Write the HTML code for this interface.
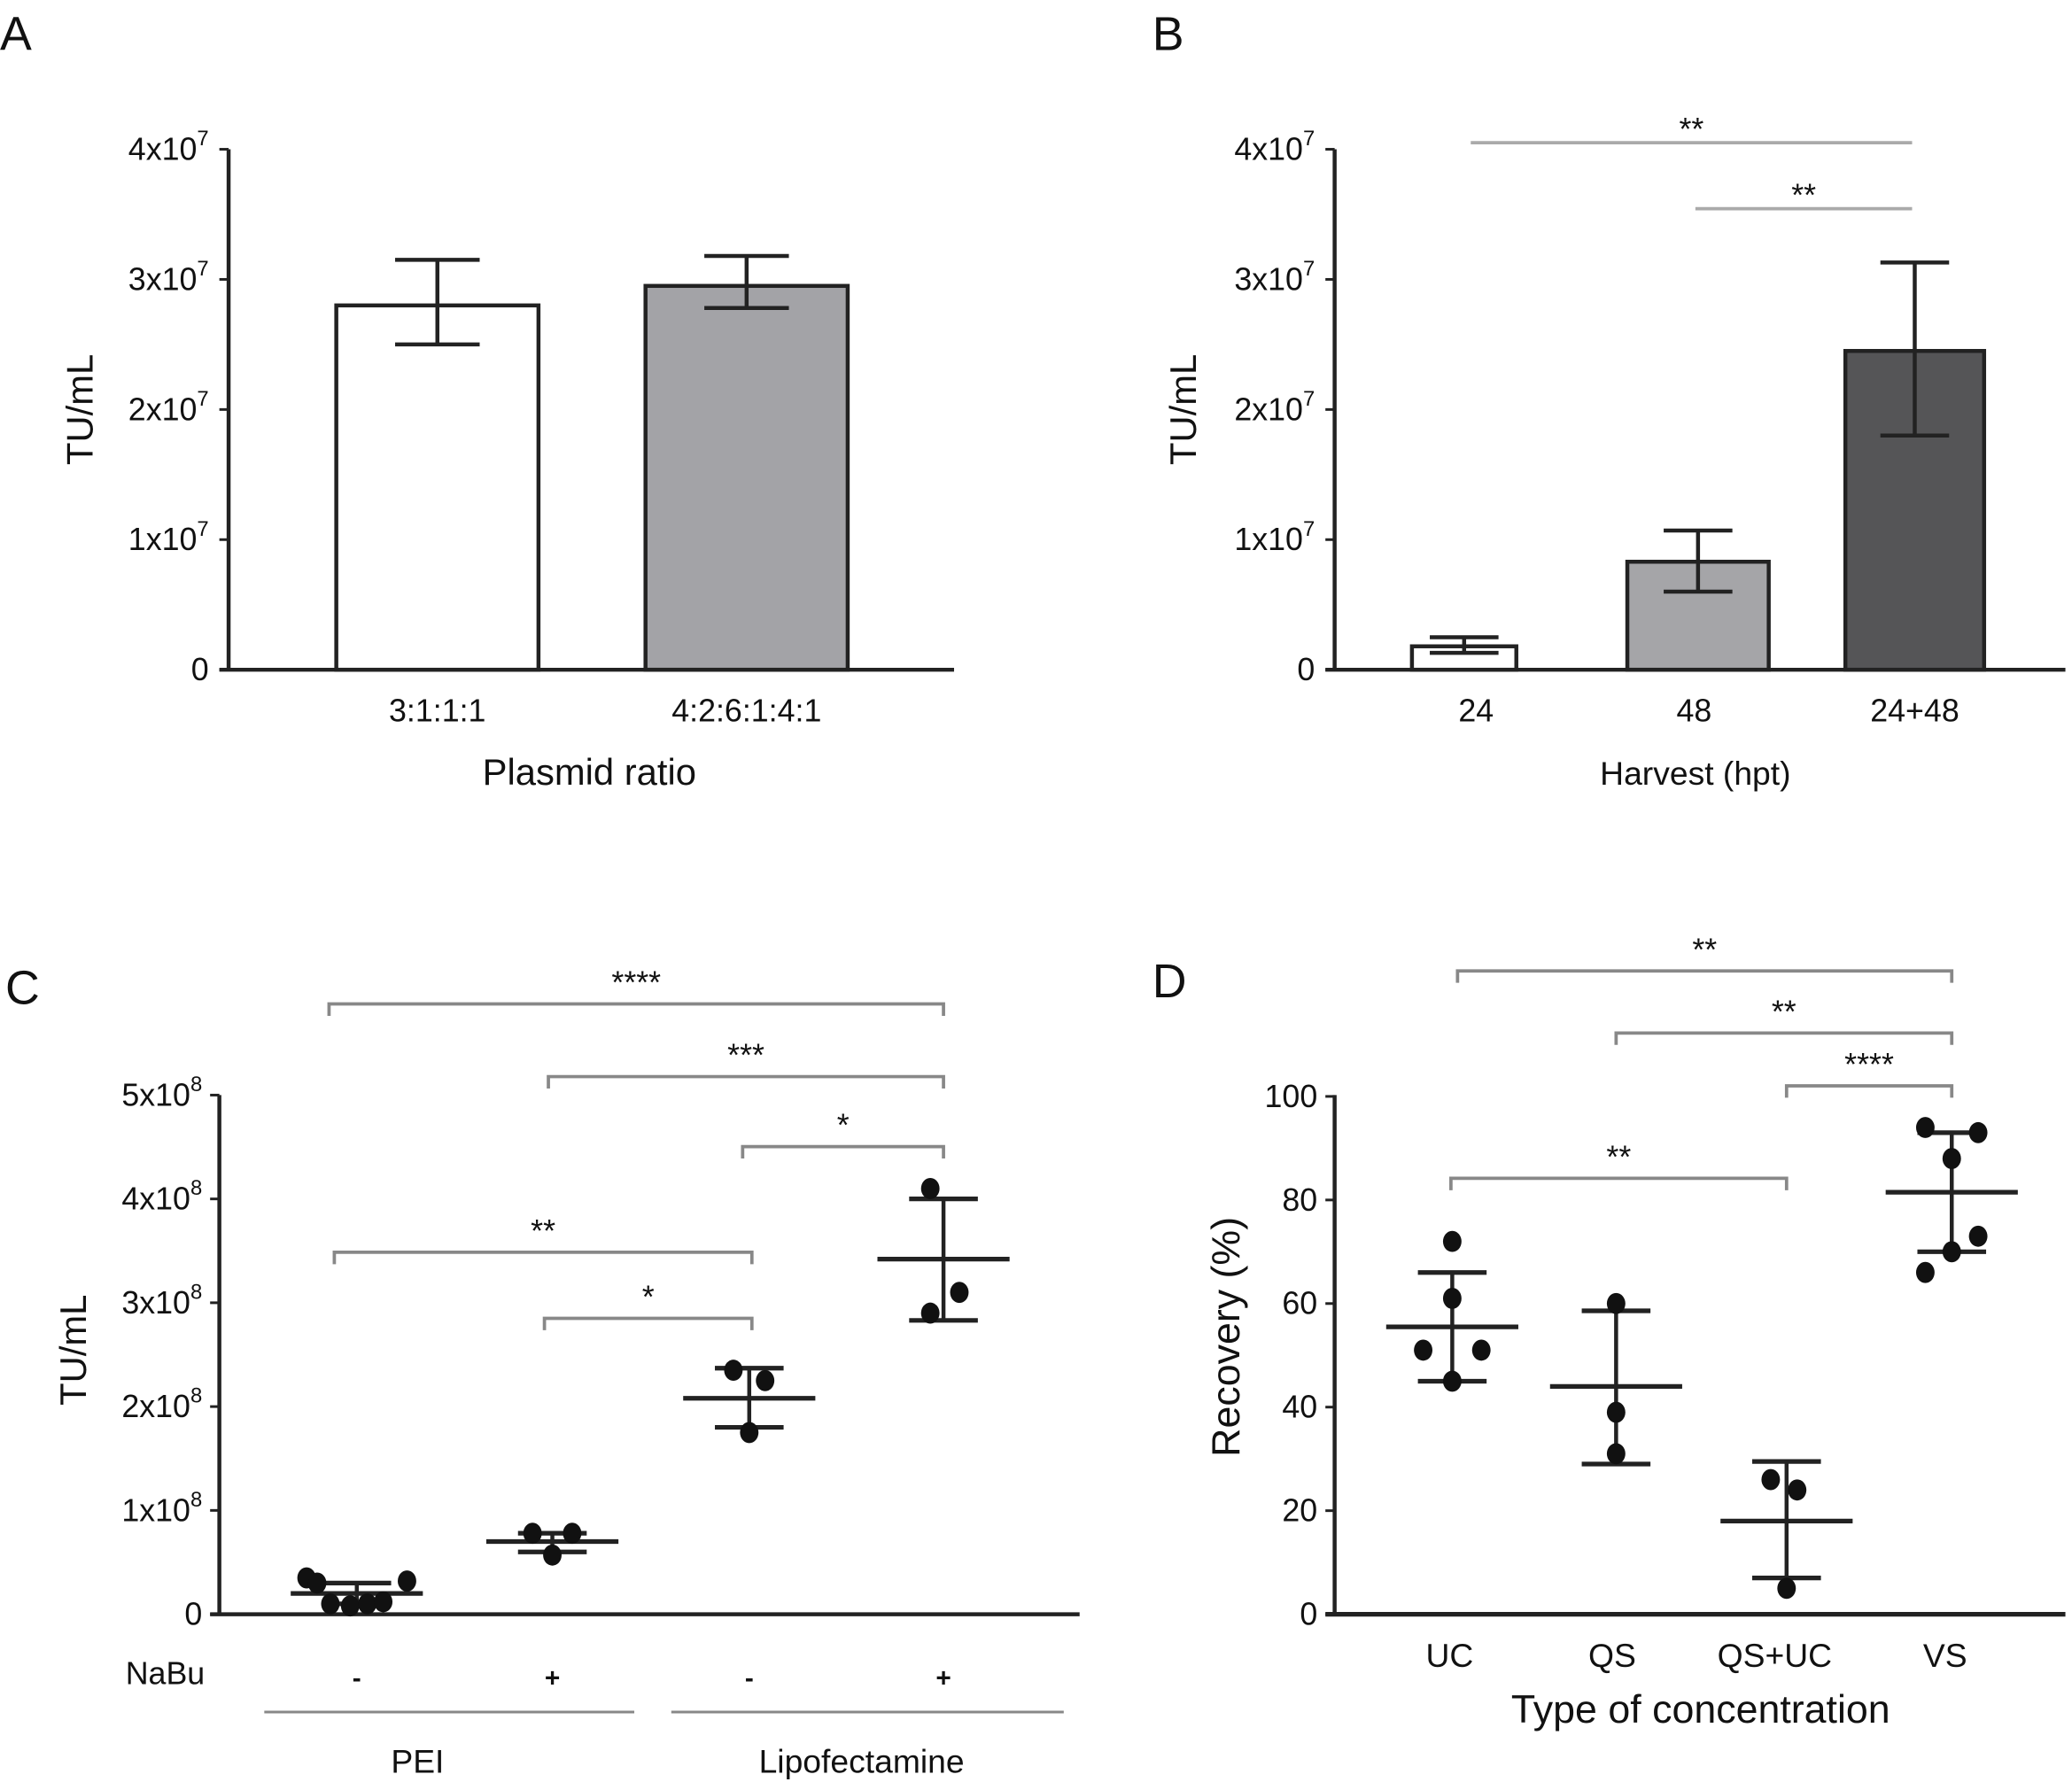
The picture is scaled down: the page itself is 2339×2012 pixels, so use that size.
<!DOCTYPE html>
<html><head><meta charset="utf-8"><style>
html,body{margin:0;padding:0;background:#fff}
svg{display:block}
text{font-family:"Liberation Sans",sans-serif;fill:#111}
</style></head><body>
<svg id="fig" width="2339" height="2012" viewBox="0 0 1568 1349" preserveAspectRatio="none" xmlns="http://www.w3.org/2000/svg">
<text x="0" y="38" font-size="36">A</text>
<text x="872" y="38" font-size="36">B</text>
<text x="4" y="760" font-size="36">C</text>
<text x="872" y="755" font-size="36">D</text>
<g id="gA"></g>
<g id="gB"></g>
<g id="gC"></g>
<g id="gD"></g>
</svg>
<script>
// Panel A data (units of 1e7)
const aCats=["3:1:1:1","4:2:6:1:4:1"];
const aVals=[2.8,2.95];
const aLo=[2.5,2.78];
const aHi=[3.15,3.18];
const aFills=["#ffffff","#a3a3a7"];
// Panel B data
const bCats=["24","48","24+48"];
const bVals=[0.18,0.83,2.45];
const bLo=[0.13,0.6,1.8];
const bHi=[0.25,1.07,3.13];
const bFills=["#ffffff","#a5a5a8","#555557"];
const bSig=[["**",0,2],["**",1,2]];
// Panel C data (units of 1e8)
const cNaBu=["-","+","-","+"];
const cPts=[[0.35,0.3,0.1,0.08,0.1,0.12,0.32],[0.78,0.78,0.57],[2.35,2.25,1.75],[4.1,3.1,2.9]];
const cMean=[0.2,0.7,2.08,3.42];
const cLo=[0.1,0.6,1.8,2.83];
const cHi=[0.3,0.78,2.37,4.0];
const cSig=[["****",0,3],["***",1,3],["*",2,3],["**",0,2],["*",1,2]];
// Panel D data (%)
const dCats=["UC","QS","QS+UC","VS"];
const dPts=[[72,61,51,51,45],[60,39,31],[26,24,5],[94,93,88,73,70,66]];
const dMean=[55.5,44,18,81.5];
const dLo=[45,29,7,70];
const dHi=[66,58.6,29.5,93];
const dSig=[["**",0,3],["**",1,3],["****",2,3],["**",0,2]];

const NS="http://www.w3.org/2000/svg";
function mk(parent,tag,attrs,name,txt){const e=document.createElementNS(NS,tag);for(const k in attrs)e.setAttribute(k,attrs[k]);


if(txt!==undefined)e.textContent=txt;parent.appendChild(e);return e;}
function line(g,x1,y1,x2,y2,w,c,n){return mk(g,'line',{x1,y1,x2,y2,stroke:c||'#222','stroke-width':w||3},n);}
function expTick(g,x,y,m,e,n){const t=mk(g,'text',{x,y,'font-size':24,'text-anchor':'end'},n);t.innerHTML=m+'x10<tspan dy="-11" font-size="16">'+e+'</tspan>';}
function bracket(g,x1,x2,y,lbl,n){mk(g,'path',{d:`M${x1} ${y+9}V${y}H${x2}V${y+9}`,fill:'none',stroke:'#888','stroke-width':2.5},n);
mk(g,'text',{x:(x1+x2)/2,y:y-8,'font-size':24,'text-anchor':'middle'},n+'-label',lbl);}

// ---- Panel A
(function(){const g=document.getElementById('gA');const y0=507,ppu=98.5;const Y=v=>y0-v*ppu;
const xc=[331,565],bw=153;
line(g,173,113,173,y0+1,3,'#222','y-axis');line(g,166,y0,722,y0,3,'#222','x-axis');
for(let i=0;i<=4;i++){line(g,166,Y(i),173,Y(i),2,'#222','y-tick');
if(i==0)mk(g,'text',{x:158,y:Y(0)+8,'font-size':24,'text-anchor':'end'},'y-tick-label','0');else expTick(g,158,Y(i)+8,i,7,'y-tick-label');}
aVals.forEach((v,i)=>{mk(g,'rect',{x:xc[i]-bw/2,y:Y(v),width:bw,height:y0-Y(v),fill:aFills[i],stroke:'#222','stroke-width':3},'bar-'+i);
line(g,xc[i],Y(aLo[i]),xc[i],Y(aHi[i]),3,'#222','error-bar');line(g,xc[i]-32,Y(aLo[i]),xc[i]+32,Y(aLo[i]),3,'#222','error-cap');line(g,xc[i]-32,Y(aHi[i]),xc[i]+32,Y(aHi[i]),3,'#222','error-cap');
mk(g,'text',{x:xc[i],y:546,'font-size':24,'text-anchor':'middle'},'x-tick-label',aCats[i]);});
mk(g,'text',{x:0,y:0,'font-size':28,'text-anchor':'middle',transform:'translate(70,310) rotate(-90)'},'y-axis-title','TU/mL');
mk(g,'text',{x:446,y:594,'font-size':28,'text-anchor':'middle'},'x-axis-title','Plasmid ratio');})();

// ---- Panel B
(function(){const g=document.getElementById('gB');const y0=507,ppu=98.5;const Y=v=>y0-v*ppu;
const xc=[1108,1285,1449],bw=[79,107,105],lx=[1117,1282,1449];
line(g,1010,113,1010,y0+1,3,'#222','y-axis');line(g,1003,y0,1563,y0,3,'#222','x-axis');
for(let i=0;i<=4;i++){line(g,1003,Y(i),1010,Y(i),2,'#222','y-tick');
if(i==0)mk(g,'text',{x:995,y:Y(0)+8,'font-size':24,'text-anchor':'end'},'y-tick-label','0');else expTick(g,995,Y(i)+8,i,7,'y-tick-label');}
bVals.forEach((v,i)=>{mk(g,'rect',{x:xc[i]-bw[i]/2,y:Y(v),width:bw[i],height:y0-Y(v),fill:bFills[i],stroke:'#222','stroke-width':3},'bar-'+bCats[i]);
line(g,xc[i],Y(bLo[i]),xc[i],Y(bHi[i]),3,'#222','error-bar');line(g,xc[i]-26,Y(bLo[i]),xc[i]+26,Y(bLo[i]),3,'#222','error-cap');line(g,xc[i]-26,Y(bHi[i]),xc[i]+26,Y(bHi[i]),3,'#222','error-cap');
mk(g,'text',{x:lx[i],y:546,'font-size':24,'text-anchor':'middle'},'x-tick-label',bCats[i]);});
const sx=[1113,1283,1447],sy=[108,158];
bSig.forEach((s,k)=>{line(g,sx[s[1]],sy[k],sx[s[2]],sy[k],2.5,'#aaa','sig-line');mk(g,'text',{x:(sx[s[1]]+sx[s[2]])/2,y:sy[k]-2,'font-size':24,'text-anchor':'middle'},'sig-label',s[0]);});
mk(g,'text',{x:0,y:0,'font-size':28,'text-anchor':'middle',transform:'translate(905,310) rotate(-90)'},'y-axis-title','TU/mL');
mk(g,'text',{x:1283,y:594,'font-size':25,'text-anchor':'middle'},'x-axis-title','Harvest (hpt)');})();

function scatterGroup(g,xc,pts,mean,lo,hi,Y,offs,name){
line(g,xc,Y(lo),xc,Y(hi),3,'#222',name+'-sd-line');
line(g,xc-26,Y(lo),xc+26,Y(lo),3.5,'#222',name+'-sd-cap');line(g,xc-26,Y(hi),xc+26,Y(hi),3.5,'#222',name+'-sd-cap');
line(g,xc-50,Y(mean),xc+50,Y(mean),3.5,'#222',name+'-mean');
pts.forEach((v,j)=>mk(g,'ellipse',{cx:xc+offs[j%offs.length],cy:Y(v),rx:7,ry:8,fill:'#111'},name+'-point'));}

// ---- Panel C
(function(){const g=document.getElementById('gC');const y0=1222,ppu=78.6;const Y=v=>y0-v*ppu;
const xc=[270,418,567,714];
line(g,166,829,166,y0+1,3,'#222','y-axis');line(g,159,y0,817,y0,3,'#222','x-axis');
for(let i=0;i<=5;i++){line(g,159,Y(i),166,Y(i),2,'#222','y-tick');
if(i==0)mk(g,'text',{x:153,y:Y(0)+8,'font-size':24,'text-anchor':'end'},'y-tick-label','0');else expTick(g,153,Y(i)+8,i,8,'y-tick-label');}
const offs=[[-38,-30,-20,-5,8,20,38],[-15,15,0],[-12,12,0],[-10,12,-10]];
cPts.forEach((p,i)=>scatterGroup(g,xc[i],p,cMean[i],cLo[i],cHi[i],Y,offs[i],'group-'+i));
const sy=[760,815,868,948,998];const sxL=[249,415,562,253,412],sxR=[714,714,714,569,569];
cSig.forEach((s,k)=>bracket(g,sxL[k],sxR[k],sy[k],s[0],'sig-bracket'));
mk(g,'text',{x:95,y:1275,'font-size':24},'nabu-label','NaBu');
cNaBu.forEach((s,i)=>mk(g,'text',{x:xc[i],y:1277,'font-size':20,'font-weight':'bold','text-anchor':'middle'},'nabu-sign',s));
line(g,200,1296,480,1296,2,'#888','pei-group-line');line(g,508,1296,805,1296,2,'#888','lipo-group-line');
mk(g,'text',{x:316,y:1342,'font-size':25,'text-anchor':'middle'},'pei-label','PEI');
mk(g,'text',{x:652,y:1342,'font-size':25,'text-anchor':'middle'},'lipofectamine-label','Lipofectamine');
mk(g,'text',{x:0,y:0,'font-size':28,'text-anchor':'middle',transform:'translate(65,1022) rotate(-90)'},'y-axis-title','TU/mL');})();

// ---- Panel D
(function(){const g=document.getElementById('gD');const y0=1222,ppu=3.92;const Y=v=>y0-v*ppu;
const xc=[1099,1223,1352,1477];
line(g,1010,829,1010,y0+1,3,'#222','y-axis');line(g,1003,y0,1563,y0,3.5,'#222','x-axis');
for(let i=0;i<=100;i+=20){line(g,1003,Y(i),1010,Y(i),2,'#222','y-tick');
mk(g,'text',{x:997,y:Y(i)+8,'font-size':24,'text-anchor':'end'},'y-tick-label',String(i));}
const offs=[[0,0,-22,22,0],[0,0,0],[-12,8,0],[-20,20,0,20,0,-20]];
dPts.forEach((p,i)=>scatterGroup(g,xc[i],p,dMean[i],dLo[i],dHi[i],Y,offs[i],'group-'+dCats[i]));
const sy=[735,782,822,892];const sxL=[1103,1223,1352,1098],sxR=[1477,1477,1477,1352];
dSig.forEach((s,k)=>bracket(g,sxL[k],sxR[k],sy[k],s[0],'sig-bracket'));
const lx=[1097,1220,1343,1472];
dCats.forEach((c,i)=>mk(g,'text',{x:lx[i],y:1262,'font-size':25,'text-anchor':'middle'},'x-tick-label',c));
mk(g,'text',{x:1287,y:1304,'font-size':30,'text-anchor':'middle'},'x-axis-title','Type of concentration');
mk(g,'text',{x:0,y:0,'font-size':30,'text-anchor':'middle',transform:'translate(938,1012) rotate(-90)'},'y-axis-title','Recovery (%)');})();
</script>
</body></html>
